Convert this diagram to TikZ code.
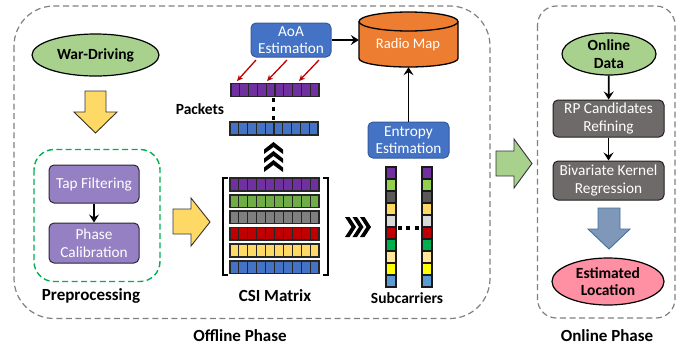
\documentclass[tikz,border=0pt]{standalone}
\usepackage{fontspec}
\setmainfont{Carlito}
\usetikzlibrary{arrows.meta,shapes.geometric,calc}
\definecolor{cGreen}{HTML}{A9D18E}
\definecolor{cYel}{HTML}{FFD966}
\definecolor{cPur}{HTML}{9480C2}
\definecolor{cBlue}{HTML}{4472C4}
\definecolor{cOrg}{HTML}{ED7D31}
\definecolor{cGrayB}{HTML}{6E6A6A}
\definecolor{cPink}{HTML}{FF8FA3}
\definecolor{cDash}{HTML}{808080}
\definecolor{cSteel}{HTML}{7F97B8}
\definecolor{cSteelE}{HTML}{41719C}
\definecolor{dPur}{HTML}{7030A0}
\definecolor{dGrn}{HTML}{70AD47}
\definecolor{dGry}{HTML}{7F7F7F}
\definecolor{dRed}{HTML}{C00000}
\definecolor{sGrn}{HTML}{92D050}
\definecolor{sGry}{HTML}{595959}
\definecolor{sLgt}{HTML}{D9D9D9}
\definecolor{sEmr}{HTML}{00B050}
\definecolor{sPal}{HTML}{FFE699}
\definecolor{sYel}{HTML}{FFFF00}
\definecolor{sSky}{HTML}{5B9BD5}
\newcommand{\hrow}[5]{% x0 x1 y0 y1 colour
  \fill[#5] (#1,#3) rectangle (#2,#4);
  \foreach \i in {0,...,10}{
    \pgfmathsetmacro{\xx}{#1+(#2-#1)*\i/10}
    \draw[line width=1.1pt,black!85] (\xx,#3) -- (\xx,#4);}
  \draw[line width=1.3pt,black!85] (#1,#3) rectangle (#2,#4);}
\newcommand{\vcol}[2]{% x0 x1
  \foreach \c [count=\n from 0] in {dPur,sGrn,sGry,cYel,sLgt,dRed,sEmr,sPal,sYel,sSky}{
    \pgfmathsetmacro{\ya}{167+12*\n}
    \pgfmathsetmacro{\yb}{179+12*\n}
    \draw[line width=1.2pt,black!90,fill=\c] (#1,\ya) rectangle (#2,\yb);}}
\newcommand{\upchev}[1]{\fill (264,#1+7.5) -- (273.5,#1) -- (283,#1+7.5) -- (283,#1+12) -- (273.5,#1+5) -- (264,#1+12) -- cycle;}
\newcommand{\rightchev}[1]{\fill (#1,217) -- (#1+4.5,217) -- (#1+11,227) -- (#1+4.5,237) -- (#1,237) -- (#1+6.5,227) -- cycle;}
\tikzset{
  x=1pt,y=-1pt,
  phase/.style={draw=cDash,line width=1.2pt,dash pattern=on 6pt off 3.6pt},
  greenbox/.style={draw=sEmr,line width=1.4pt,dash pattern=on 6pt off 3.4pt},
  lbl/.style={font=\fontsize{17}{19}\selectfont\bfseries,text=black,inner sep=0pt},
  lblsmall/.style={font=\fontsize{15.5}{18}\selectfont\bfseries,text=black,inner sep=0pt},
  oval/.style={ellipse,draw=black,line width=1.2pt,inner sep=0pt,align=center,
    font=\fontsize{15.5}{17.5}\selectfont\bfseries},
  proc/.style={rectangle,rounded corners=5pt,draw=#1!30!black,fill=#1,line width=1pt,text=white,inner sep=0pt,
    align=center,font=\fontsize{15.3}{17.5}\selectfont},
  blueproc/.style={proc=cBlue,draw=cBlue!80!black},
  bigarrow/.style={line width=0.9pt,line join=miter},
  conn/.style={-{Stealth[length=8pt,width=10pt,inset=3pt]},line width=1.8pt,black},
  redconn/.style={-{Stealth[length=6pt,width=5.5pt]},line width=1.3pt,dRed},
}
\begin{document}
\begin{tikzpicture}
\useasboundingbox (0,0) rectangle (694,349);
% phase frames
\draw[phase,rounded corners=40pt] (14,6) rectangle (490,318.5);
\draw[phase,rounded corners=19pt] (537.5,6) rectangle (675,318);
\draw[greenbox,rounded corners=20pt] (34,149.5) rectangle (160,281.5);
% left column
\node[oval,fill=cGreen,minimum width=127pt,minimum height=42pt] (war) at (95.5,55) {War-Driving};
\draw[bigarrow,draw=black!80,fill=cYel] (85,91) -- (106,91) -- (106,112) -- (117,112) -- (95.5,133) -- (74,112) -- (85,112) -- cycle;
\node[proc=cPur,minimum width=90pt,minimum height=38pt] (tap) at (94,184) {Tap Filtering};
\node[proc=cPur,minimum width=90pt,minimum height=40pt] (cal) at (94,243) {Phase\\Calibration};
\draw[conn] (tap) -- (cal);
\node[lbl] (pre) at (91,296) {Preprocessing};
\draw[bigarrow,draw=black!80,fill=cYel] (173,209) -- (191,209) -- (191,198) -- (210,222) -- (191,246) -- (191,234) -- (173,234) -- cycle;
% CSI matrix
\draw[line width=1.5pt] (228,178) -- (223,178) -- (223,275) -- (228,275);
\draw[line width=1.5pt] (323,178) -- (328,178) -- (328,275) -- (323,275);
\hrow{230}{319}{178}{191}{dPur}
\hrow{230}{319}{195}{207.5}{dGrn}
\hrow{230}{319}{211}{223.5}{dGry}
\hrow{230}{319}{227.5}{240}{dRed}
\hrow{230}{319}{244}{257}{cYel}
\hrow{230}{319}{261}{273.5}{cBlue}
\node[lbl] (csi) at (275,296) {CSI Matrix};
% packets
\hrow{231}{319}{83.5}{96.5}{dPur}
\hrow{230}{318}{122}{135}{cBlue}
\fill (271.8,98) rectangle (275.4,102);
\fill (271.8,107) rectangle (275.4,111);
\fill (271.8,116) rectangle (275.4,120);
\node[lblsmall] (pk) at (200,109) {Packets};
\upchev{142}\upchev{151}\upchev{160}
% AoA
\node[blueproc,minimum width=80pt,minimum height=34pt] (aoa) at (291,40) {AoA\\Estimation};
\coordinate (r1a) at (256,60); \coordinate (r1b) at (237,81);
\coordinate (r2a) at (287,60); \coordinate (r2b) at (267,81);
\coordinate (r3a) at (319,60); \coordinate (r3b) at (299,81);
\draw[redconn] (r1a) -- (r1b);
\draw[redconn] (r2a) -- (r2b);
\draw[redconn] (r3a) -- (r3b);
% radio map
\node[inner sep=0pt,minimum width=99pt,minimum height=55pt] (map) at (408.5,39.5) {};
\draw[line width=1.3pt,fill=cOrg] (359,21.5) -- (359,58.5) arc[start angle=180,end angle=360,x radius=49.5pt,y radius=8.5pt] -- (458,21.5);
\draw[line width=1.3pt,fill=cOrg] (408.5,21.5) ellipse[x radius=49.5pt,y radius=9.5pt];
\node[text=white,font=\fontsize{14.6}{16}\selectfont,inner sep=0pt] (maplbl) at (408,45) {Radio Map};
\draw[conn] (aoa.east) -- (aoa.east -| map.west);
% entropy
\node[blueproc,minimum width=81pt,minimum height=36pt] (ent) at (408.5,140) {Entropy\\Estimation};
\draw[conn] (ent.north) -- (ent.north |- map.south);
% subcarriers
\vcol{386}{396}
\vcol{422}{432}
\fill (398,226) rectangle (402,230);
\fill (406,226) rectangle (410,230);
\fill (415,226) rectangle (419,230);
\rightchev{345}\rightchev{352.5}\rightchev{360}
\node[lblsmall] (sub) at (407,298) {Subcarriers};
\node[lbl] (off) at (240,336) {Offline Phase};
% between phases
\draw[bigarrow,draw=black!80,fill=cGreen] (496,151) -- (514,151) -- (514,139) -- (532,163.5) -- (514,188) -- (514,176) -- (496,176) -- cycle;
% online
\node[oval,fill=cGreen,minimum width=94pt,minimum height=42pt] (data) at (609,54) {Online\\Data};
\node[proc=cGrayB,minimum width=111pt,minimum height=37pt] (rp) at (608.5,118.5) {RP Candidates\\Refining};
\node[proc=cGrayB,minimum width=111pt,minimum height=39pt] (biv) at (608.5,180.5) {Bivariate Kernel\\Regression};
\draw[conn] (data) -- (rp);
\draw[conn] (rp) -- (biv);
\draw[line width=0.9pt,draw=cSteelE,fill=cSteel] (598,208) -- (620,208) -- (620,229) -- (630,229) -- (609,249) -- (588,229) -- (598,229) -- cycle;
\node[oval,fill=cPink,minimum width=112pt,minimum height=47pt] (loc) at (608,281.5) {Estimated\\Location};
\node[lbl] (on) at (607,336) {Online Phase};
\end{tikzpicture}
\end{document}
